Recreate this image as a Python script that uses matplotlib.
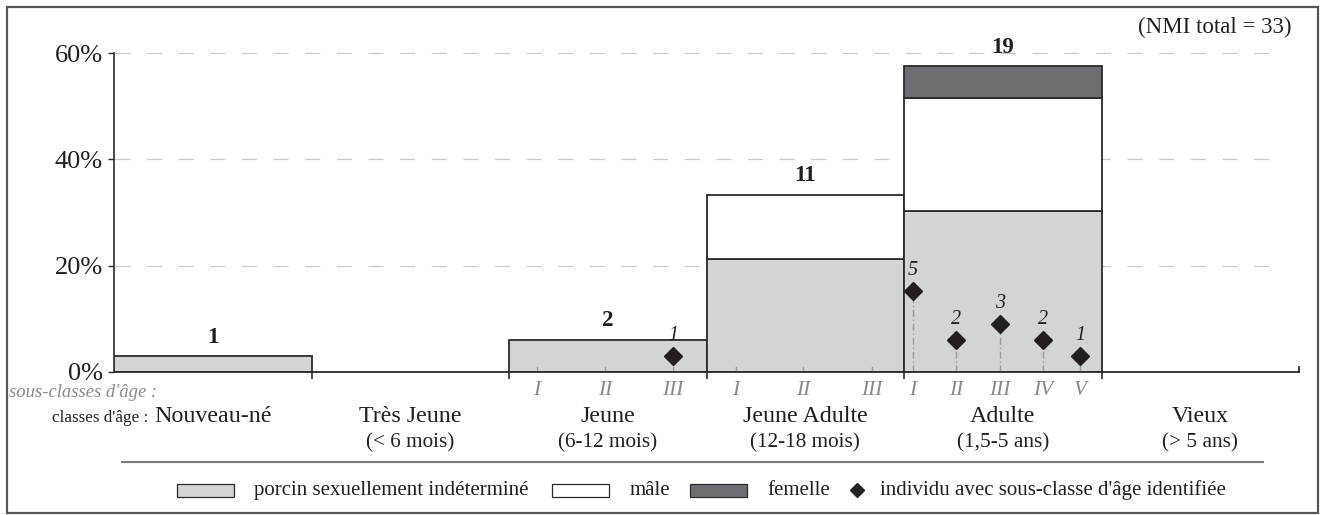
import matplotlib
matplotlib.use('Agg')
import matplotlib.pyplot as plt
from matplotlib.patches import Rectangle
from matplotlib.lines import Line2D
import matplotlib.transforms as mtransforms

plt.rcParams['font.family'] = ['Liberation Serif', 'DejaVu Serif']

# ---------------- data ----------------
classes = ["Nouveau-né", "Très Jeune", "Jeune", "Jeune Adulte", "Adulte", "Vieux"]
class_ages = ["", "(< 6 mois)", "(6-12 mois)", "(12-18 mois)", "(1,5-5 ans)", "(> 5 ans)"]
nmi_total = 33
indet = [1, 0, 2, 7, 10, 0]
male = [0, 0, 0, 4, 7, 0]
female = [0, 0, 0, 0, 2, 0]

# sub-classes (position along the class axis, in class units)
jeune_sub_labels = ["I", "II", "III"]
jeune_sub_x = [2.142, 2.486, 2.830]
jadulte_sub_labels = ["I", "II", "III"]
jadulte_sub_x = [3.149, 3.489, 3.838]
adulte_sub_labels = ["I", "II", "III", "IV", "V"]
adulte_sub_x = [4.046, 4.263, 4.486, 4.704, 4.891]

# individuals with identified sub-class
ind_jeune_x = [2.830]
ind_jeune_n = [1]
ind_adulte_x = adulte_sub_x
ind_adulte_n = [5, 2, 3, 2, 1]

yticks = [0, 20, 40, 60]
ytick_labels = ["0%", "20%", "40%", "60%"]

legend_labels = ["porcin sexuellement indéterminé", "mâle", "femelle",
                 "individu avec sous-classe d'âge identifiée"]

# ---------------- style ----------------
C_INDET = "#d3d4d6"
C_MALE = "#ffffff"
C_FEM = "#6d6e71"
C_EDGE = "#2b2b2b"
C_TXT = "#231f20"
C_SUB = "#8a8a8a"

W, H = 1320, 515
fig = plt.figure(figsize=(W / 100, H / 100), dpi=100)


def fy(px):
    return 1 - px / H


def fx(px):
    return px / W


ax_l, ax_r = 114, 1299
px_per_pct = 319 / 60
top_px = 372 - 65 * px_per_pct
ax = fig.add_axes([fx(ax_l), fy(372), fx(ax_r - ax_l), (372 - top_px) / H])
ax.set_xlim(0, 6)
ax.set_ylim(0, 65)

pct = lambda v: [c / nmi_total * 100 for c in v]
p_ind, p_male, p_fem = pct(indet), pct(male), pct(female)
xs = list(range(len(classes)))
bottom_m = p_ind
bottom_f = [a + b for a, b in zip(p_ind, p_male)]

kw = dict(width=1.0, align='edge', edgecolor=C_EDGE, linewidth=1.3, zorder=3)
for i in xs:
    if p_ind[i] > 0:
        ax.bar(i, p_ind[i], color=C_INDET, **kw)
    if p_male[i] > 0:
        ax.bar(i, p_male[i], bottom=bottom_m[i], color=C_MALE, **kw)
    if p_fem[i] > 0:
        ax.bar(i, p_fem[i], bottom=bottom_f[i], color=C_FEM, **kw)

# totals labels
totals = [a + b + c for a, b, c in zip(indet, male, female)]
for i in xs:
    if totals[i] > 0:
        top = bottom_f[i] + p_fem[i]
        ax.annotate(str(totals[i]), (i + 0.5, top), xytext=(0, 6), textcoords='offset points',
                    ha='center', va='bottom', fontsize=16.5, fontweight='bold', color=C_TXT,
                    zorder=6)

# gridlines
for yv in [20, 40, 60]:
    ax.plot([0.001, 0.9865], [yv, yv], transform=ax.get_yaxis_transform(), color="#c9c9c9",
            lw=0.9, dashes=(12, 13.3), zorder=1)

# spines
for s in ['top', 'right']:
    ax.spines[s].set_visible(False)
ax.spines['left'].set_bounds(0, 60)
ax.spines['left'].set_color(C_EDGE)
ax.spines['bottom'].set_color(C_EDGE)
ax.spines['left'].set_linewidth(1.2)
ax.spines['bottom'].set_linewidth(1.3)
ax.spines['bottom'].set_zorder(5)

ax.set_yticks(yticks)
ax.set_yticklabels(ytick_labels, fontsize=19, color=C_TXT)
ax.tick_params(axis='y', length=4.5, width=1, color=C_EDGE, pad=3.5)
ax.set_xticks([1, 2, 3, 4, 5])
ax.set_xticklabels([])
ax.tick_params(axis='x', length=5, width=1.2, color=C_EDGE, direction='out')
ax.plot([6, 6], [0, 1], color=C_EDGE, lw=1.3, clip_on=False, zorder=5)

# sub-class small ticks
for x in jeune_sub_x + jadulte_sub_x:
    ax.plot([x, x], [0, 1.0], color="#9a9a9a", lw=1.0, zorder=4)

# individuals
for x, n in zip(ind_adulte_x, ind_adulte_n):
    ax.plot([x, x], [0, n / nmi_total * 100], color="#9a9a9a", lw=1.0,
            linestyle=(0, (5, 2, 1, 2)), zorder=4)
ind_x = ind_jeune_x + ind_adulte_x
ind_n = ind_jeune_n + ind_adulte_n
ind_y = [n / nmi_total * 100 for n in ind_n]
ax.plot(ind_x, ind_y, linestyle='none', marker='D', markersize=9, color=C_TXT, zorder=6)
for x, y, n in zip(ind_x, ind_y, ind_n):
    ax.annotate(str(n), (x, y), xytext=(0, 8), textcoords='offset points', ha='center',
                va='bottom', fontsize=14.5, fontstyle='italic', color=C_TXT, zorder=6)

# labels below axis
bt = mtransforms.blended_transform_factory(ax.transData, fig.transFigure)
for x, lab in zip(jeune_sub_x + jadulte_sub_x + adulte_sub_x,
                  jeune_sub_labels + jadulte_sub_labels + adulte_sub_labels):
    ax.text(x, fy(395), lab, transform=bt, ha='center', va='baseline', fontsize=15.5,
            fontstyle='italic', color=C_SUB)
for i in xs:
    ax.text(i + 0.5, fy(422), classes[i], transform=bt, ha='center', va='baseline',
            fontsize=17.3, color=C_TXT)
    if class_ages[i]:
        ax.text(i + 0.5, fy(447), class_ages[i], transform=bt, ha='center', va='baseline',
                fontsize=15.3, color=C_TXT)

fig.text(fx(9), fy(397), "sous-classes d'âge :", ha='left', va='baseline', fontsize=13.4,
         fontstyle='italic', color=C_SUB)
fig.text(fx(148), fy(422), "classes d'âge :", ha='right', va='baseline', fontsize=12.3,
         color=C_TXT)
fig.text(fx(1292), fy(33), "(NMI total = 33)", ha='right', va='baseline', fontsize=16.5,
         color=C_TXT)

# separator line
fig.add_artist(Line2D([fx(122), fx(1263)], [fy(462), fy(462)], color="#7a7a7a", lw=1.5))

# frame
fig.add_artist(Rectangle((fx(7), fy(513)), fx(1311), 506 / H, fill=False,
                         edgecolor="#555555", lw=1.6))

# legend (manual layout)
leg_mid = 490
patch_colors = [C_INDET, C_MALE, C_FEM]
patch_x = [177, 552, 690]
text_x = [254, 630, 767, 880]
for px0, col in zip(patch_x, patch_colors):
    fig.add_artist(Rectangle((fx(px0), fy(leg_mid + 6.5)), fx(57), 13 / H, facecolor=col,
                             edgecolor=C_EDGE, lw=0.9))
fig.add_artist(Line2D([fx(857)], [fy(leg_mid)], linestyle='none', marker='D', markersize=7.5,
                      color=C_TXT))
for tx, lab in zip(text_x, legend_labels):
    fig.text(fx(tx), fy(leg_mid + 5), lab, ha='left', va='baseline', fontsize=15,
             color=C_TXT)

fig.savefig("out.png", dpi=100)
